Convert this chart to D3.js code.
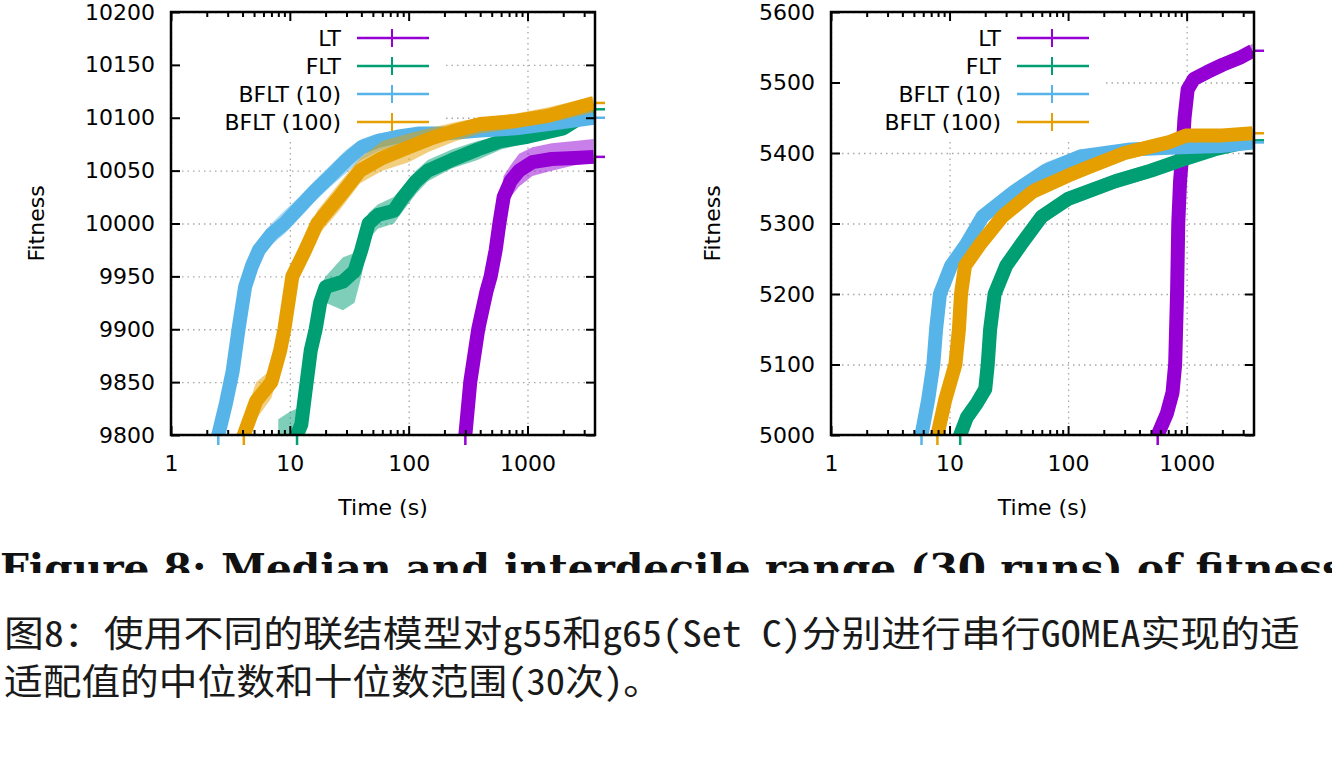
<!DOCTYPE html>
<html>
<head>
<meta charset="utf-8">
<script src="https://cdn.jsdelivr.net/npm/d3@7"></script>
<style>
  body { margin: 0; background: #fff; }
  svg { display: block; }
</style>
</head>
<body>
<div id="chart-area"></div>
<script>
// series shared by both panels
let seriesNames = ['LT', 'FLT', 'BFLT (10)', 'BFLT (100)'];
let seriesColors = ['#9400d3', '#009e73', '#56b4e9', '#e69f00'];

// tick values
let timeTicks = [1, 10, 100, 1000];
let timeMinor = [2, 3, 4, 5, 6, 7, 8, 9, 20, 30, 40, 50, 60, 70, 80, 90, 200, 300, 400, 500, 600, 700, 800, 900, 2000, 3000];
let g55Ticks = [9800, 9850, 9900, 9950, 10000, 10050, 10100, 10150, 10200];
let g65Ticks = [5000, 5100, 5200, 5300, 5400, 5500, 5600];

// rows: [time (s), median, lower decile, upper decile]
// g55 (left panel)
let g55LT = [
  [280, 9790, 9780, 9800], [300, 9800, 9790, 9815], [330, 9850, 9835, 9860],
  [385, 9900, 9885, 9910], [450, 9935, 9920, 9945], [490, 9950, 9940, 9962],
  [540, 9975, 9965, 9985], [580, 10000, 9985, 10012], [630, 10025, 10005, 10045],
  [720, 10040, 10025, 10055], [850, 10050, 10035, 10066], [1100, 10058, 10045, 10072],
  [1600, 10061, 10050, 10076], [2500, 10062, 10055, 10078], [3600, 10063, 10058, 10080],
];
let g55FLT = [
  [8, 9770, 9750, 9815], [10, 9785, 9765, 9822], [11.5, 9800, 9790, 9825],
  [12.5, 9810, 9795, 9830], [13.5, 9840, 9820, 9855], [15, 9880, 9860, 9895],
  [16.5, 9900, 9885, 9915], [18, 9925, 9905, 9940], [20, 9940, 9925, 9950],
  [28, 9945, 9918, 9968], [35, 9955, 9925, 9972], [40, 9975, 9950, 9990],
  [46, 10000, 9985, 10010], [55, 10008, 9995, 10018], [75, 10012, 10000, 10025],
  [90, 10025, 10012, 10035], [115, 10040, 10028, 10050], [145, 10050, 10040, 10060],
  [230, 10060, 10052, 10070], [380, 10070, 10060, 10078], [600, 10078, 10070, 10083],
  [1000, 10082, 10076, 10088], [2000, 10090, 10084, 10096], [3600, 10108, 10100, 10112],
];
let g55BFLT10 = [
  [2.3, 9790, 9780, 9805], [2.5, 9800, 9790, 9815], [2.9, 9830, 9815, 9845],
  [3.3, 9860, 9845, 9880], [3.7, 9900, 9885, 9915], [4.2, 9940, 9925, 9950],
  [4.8, 9960, 9950, 9970], [5.5, 9975, 9965, 9985], [7, 9990, 9980, 10000],
  [9, 10000, 9990, 10012], [12, 10015, 10005, 10025], [16, 10030, 10020, 10040],
  [22, 10045, 10035, 10055], [30, 10060, 10048, 10070], [40, 10072, 10060, 10080],
  [55, 10078, 10068, 10085], [80, 10082, 10074, 10088], [120, 10085, 10078, 10090],
  [200, 10085, 10080, 10090], [400, 10088, 10082, 10093], [800, 10090, 10085, 10095],
  [1500, 10094, 10088, 10099], [3600, 10100, 10094, 10105],
];
let g55BFLT100 = [
  [3.8, 9790, 9780, 9805], [4.1, 9800, 9790, 9815], [5.2, 9832, 9815, 9850],
  [7, 9850, 9835, 9862], [8.3, 9880, 9865, 9892], [9, 9900, 9888, 9912],
  [10.5, 9950, 9935, 9960], [13.5, 9975, 9962, 9985], [17, 10000, 9988, 10012],
  [26, 10025, 10012, 10038], [39, 10050, 10038, 10062], [60, 10062, 10050, 10078],
  [100, 10072, 10058, 10085], [150, 10080, 10068, 10090], [250, 10088, 10078, 10096],
  [400, 10094, 10085, 10100], [800, 10097, 10090, 10104], [1500, 10102, 10095, 10110],
  [3600, 10114, 10105, 10120],
];
// g65 (right panel)
let g65LT = [
  [540, 4990, 4980, 5000], [570, 5000, 4990, 5015], [680, 5030, 5010, 5045],
  [760, 5060, 5040, 5080], [800, 5100, 5080, 5130], [830, 5200, 5170, 5230],
  [850, 5300, 5270, 5330], [880, 5360, 5340, 5380], [920, 5400, 5385, 5420],
  [960, 5450, 5430, 5470], [1020, 5490, 5475, 5500], [1150, 5505, 5495, 5515],
  [1500, 5515, 5505, 5525], [2000, 5525, 5515, 5535], [2800, 5535, 5525, 5545],
  [3600, 5545, 5535, 5555],
];
let g65FLT = [
  [11.5, 4990, 4975, 5005], [12.3, 5000, 4985, 5015], [14, 5025, 5010, 5040],
  [17, 5045, 5030, 5058], [20, 5065, 5050, 5080], [21, 5100, 5080, 5120],
  [22, 5150, 5130, 5170], [24, 5200, 5185, 5215], [30, 5240, 5228, 5252],
  [40, 5270, 5258, 5282], [60, 5310, 5298, 5320], [100, 5335, 5325, 5345],
  [250, 5360, 5350, 5370], [500, 5375, 5365, 5385], [900, 5390, 5382, 5398],
  [1700, 5405, 5398, 5412], [3600, 5418, 5410, 5425],
];
let g65BFLT10 = [
  [5.5, 4990, 4975, 5005], [5.8, 5000, 4985, 5015], [6.6, 5050, 5030, 5070],
  [7.3, 5100, 5080, 5120], [7.7, 5150, 5130, 5170], [8.3, 5200, 5180, 5215],
  [10.3, 5240, 5228, 5252], [13.8, 5270, 5258, 5282], [19, 5310, 5298, 5322],
  [35, 5345, 5335, 5357], [65, 5375, 5365, 5387], [127, 5395, 5386, 5405],
  [335, 5405, 5398, 5412], [890, 5408, 5400, 5415], [1940, 5410, 5403, 5418],
  [3600, 5415, 5408, 5422],
];
let g65BFLT100 = [
  [7.2, 4990, 4975, 5005], [7.9, 5000, 4985, 5015], [9.2, 5050, 5030, 5070],
  [11.2, 5100, 5080, 5120], [12, 5150, 5130, 5170], [12.5, 5200, 5180, 5215],
  [13.5, 5240, 5225, 5255], [18, 5270, 5258, 5283], [28, 5310, 5298, 5322],
  [50, 5345, 5335, 5357], [100, 5368, 5358, 5378], [150, 5380, 5370, 5390],
  [300, 5400, 5390, 5410], [700, 5415, 5405, 5425], [1000, 5425, 5415, 5433],
  [2000, 5425, 5417, 5433], [3600, 5428, 5420, 5435],
];

let figureTitle = 'Figure 8: Median and interdecile range (30 runs) of fitness';
let captionLines = [
  '图8：使用不同的联结模型对g55和g65(Set C)分别进行串行GOMEA实现的适',
  '适配值的中位数和十位数范围(30次)。',
];
let captionWidths = [1296, 658];

let width = 1332;
let height = 782;
let font = 'DejaVu Sans, sans-serif';

let svg = d3
  .select('#chart-area')
  .append('svg')
  .attr('width', width)
  .attr('height', height)
  .style('background', '#fff');

function drawPanel(id, box, yTicks, series, labelGap) {
  let xScale = d3.scaleLog().domain([1, 3700]).range([box.left, box.right]);
  let yScale = d3
    .scaleLinear()
    .domain([yTicks[0], yTicks[yTicks.length - 1]])
    .range([box.bottom, box.top]);
  let plotW = box.right - box.left;
  let plotH = box.bottom - box.top;

  let g = svg.append('g').attr('id', id);
  g.append('clipPath')
    .attr('id', id + '-clip')
    .append('rect')
    .attr('x', box.left)
    .attr('y', box.top)
    .attr('width', plotW)
    .attr('height', plotH);

  //grid
  let gridX = g
    .append('g')
    .attr('transform', `translate(0, ${box.bottom})`)
    .call(d3.axisBottom(xScale).tickValues(timeTicks).tickSize(-plotH).tickFormat(''));
  let gridY = g
    .append('g')
    .attr('transform', `translate(${box.left}, 0)`)
    .call(d3.axisLeft(yScale).tickValues(yTicks).tickSize(-plotW).tickFormat(''));
  [gridX, gridY].forEach((a) => {
    a.select('.domain').remove();
    a.selectAll('line').attr('stroke', '#a8a8a8').attr('stroke-width', 1.3).attr('stroke-dasharray', '1.5,4');
  });

  //key background hides the grid
  g.append('rect')
    .attr('x', box.left + 2)
    .attr('y', box.top + 2)
    .attr('width', 270)
    .attr('height', 128)
    .attr('fill', '#fff');

  //data: interdecile band + median
  let plot = g.append('g').attr('clip-path', `url(#${id}-clip)`);
  let area = d3
    .area()
    .x((d) => xScale(d[0]))
    .y0((d) => yScale(d[2]))
    .y1((d) => yScale(d[3]));
  let line = d3
    .line()
    .x((d) => xScale(d[0]))
    .y((d) => yScale(d[1]));
  series.forEach((rows, i) => {
    plot
      .append('path')
      .datum(rows)
      .attr('d', area)
      .attr('fill', seriesColors[i])
      .attr('opacity', 0.5);
    plot
      .append('path')
      .datum(rows)
      .attr('d', line)
      .attr('fill', 'none')
      .attr('stroke', seriesColors[i])
      .attr('stroke-width', 14)
      .attr('stroke-linejoin', 'round');
  });

  //little points sticking out of the border
  series.forEach((rows, i) => {
    let first = rows.find((d) => d[1] >= yScale.domain()[0]);
    let last = rows[rows.length - 1];
    g.append('line')
      .attr('x1', xScale(first[0]))
      .attr('x2', xScale(first[0]))
      .attr('y1', box.bottom)
      .attr('y2', box.bottom + 10)
      .attr('stroke', seriesColors[i])
      .attr('stroke-width', 2.5);
    g.append('line')
      .attr('x1', box.right)
      .attr('x2', box.right + 10)
      .attr('y1', yScale(last[1]))
      .attr('y2', yScale(last[1]))
      .attr('stroke', seriesColors[i])
      .attr('stroke-width', 2.5);
  });

  //axes (gnuplot style: inward ticks, mirrored)
  let axes = [];
  axes.push(
    g.append('g')
      .attr('transform', `translate(0, ${box.bottom})`)
      .call(d3.axisBottom(xScale).tickValues(timeTicks).tickSizeInner(-9).tickSizeOuter(0).tickPadding(20).tickFormat(d3.format('d')))
  );
  axes.push(
    g.append('g')
      .attr('transform', `translate(0, ${box.bottom})`)
      .call(d3.axisBottom(xScale).tickValues(timeMinor).tickSizeInner(-5).tickSizeOuter(0).tickFormat(''))
  );
  axes.push(
    g.append('g')
      .attr('transform', `translate(0, ${box.top})`)
      .call(d3.axisTop(xScale).tickValues(timeTicks).tickSizeInner(-9).tickSizeOuter(0).tickFormat(''))
  );
  axes.push(
    g.append('g')
      .attr('transform', `translate(0, ${box.top})`)
      .call(d3.axisTop(xScale).tickValues(timeMinor).tickSizeInner(-5).tickSizeOuter(0).tickFormat(''))
  );
  axes.push(
    g.append('g')
      .attr('transform', `translate(${box.left}, 0)`)
      .call(d3.axisLeft(yScale).tickValues(yTicks).tickSizeInner(-9).tickSizeOuter(0).tickPadding(16).tickFormat(d3.format('d')))
  );
  axes.push(
    g.append('g')
      .attr('transform', `translate(${box.right}, 0)`)
      .call(d3.axisRight(yScale).tickValues(yTicks).tickSizeInner(-9).tickSizeOuter(0).tickFormat(''))
  );
  axes.forEach((a) => {
    a.select('.domain').remove();
    a.selectAll('line').attr('stroke', '#000').attr('stroke-width', 2);
    a.attr('font-size', 22).attr('font-family', font);
    a.selectAll('text').attr('fill', '#000');
  });

  //frame
  g.append('rect')
    .attr('x', box.left)
    .attr('y', box.top)
    .attr('width', plotW)
    .attr('height', plotH)
    .attr('fill', 'none')
    .attr('stroke', '#000')
    .attr('stroke-width', 2.5);

  //labels
  g.append('text')
    .text('Time (s)')
    .attr('x', (box.left + box.right) / 2)
    .attr('y', box.bottom + 80)
    .attr('text-anchor', 'middle')
    .attr('font-family', font)
    .attr('font-size', 22);
  g.append('text')
    .text('Fitness')
    .attr('transform', `translate(${box.left - labelGap}, ${(box.top + box.bottom) / 2}) rotate(-90)`)
    .attr('text-anchor', 'middle')
    .attr('font-family', font)
    .attr('font-size', 22);

  //key
  let key = g.append('g').attr('id', id + '-key');
  seriesNames.forEach((name, i) => {
    let y = box.top + 26 + i * 28;
    key.append('text')
      .text(name)
      .attr('x', box.left + 170)
      .attr('y', y + 8)
      .attr('text-anchor', 'end')
      .attr('font-family', font)
      .attr('font-size', 22);
    key.append('line')
      .attr('x1', box.left + 186)
      .attr('x2', box.left + 258)
      .attr('y1', y)
      .attr('y2', y)
      .attr('stroke', seriesColors[i])
      .attr('stroke-width', 2.5);
    key.append('line')
      .attr('x1', box.left + 221)
      .attr('x2', box.left + 221)
      .attr('y1', y - 9)
      .attr('y2', y + 9)
      .attr('stroke', seriesColors[i])
      .attr('stroke-width', 2);
  });
}

drawPanel('g55', { left: 171, right: 595, top: 12, bottom: 435 }, g55Ticks, [g55LT, g55FLT, g55BFLT10, g55BFLT100], 127);
drawPanel('g65', { left: 831, right: 1254, top: 12, bottom: 435 }, g65Ticks, [g65LT, g65FLT, g65BFLT10, g65BFLT100], 111);

//caption (english line is cut off in the source)
svg.append('clipPath')
  .attr('id', 'title-clip')
  .append('rect')
  .attr('x', 0)
  .attr('y', 540)
  .attr('width', width)
  .attr('height', 33);
svg.append('text')
  .text(figureTitle)
  .attr('x', 0)
  .attr('y', 582)
  .attr('font-family', 'DejaVu Serif, serif')
  .attr('font-weight', 'bold')
  .attr('font-size', 40)
  .attr('textLength', 1345)
  .attr('lengthAdjust', 'spacingAndGlyphs')
  .attr('fill', '#111')
  .attr('clip-path', 'url(#title-clip)');

svg.selectAll('.caption')
  .data(captionLines)
  .enter()
  .append('text')
  .attr('class', 'caption')
  .text((d) => d)
  .attr('x', 4)
  .attr('y', (d, i) => 647 + i * 48)
  .attr('textLength', (d, i) => captionWidths[i])
  .attr('lengthAdjust', 'spacingAndGlyphs')
  .attr('font-family', '"Noto Sans Mono CJK SC", "Noto Sans CJK SC", sans-serif')
  .attr('font-weight', 300)
  .attr('font-size', 36)
  .attr('fill', '#1a1a1a');
</script>
</body>
</html>
